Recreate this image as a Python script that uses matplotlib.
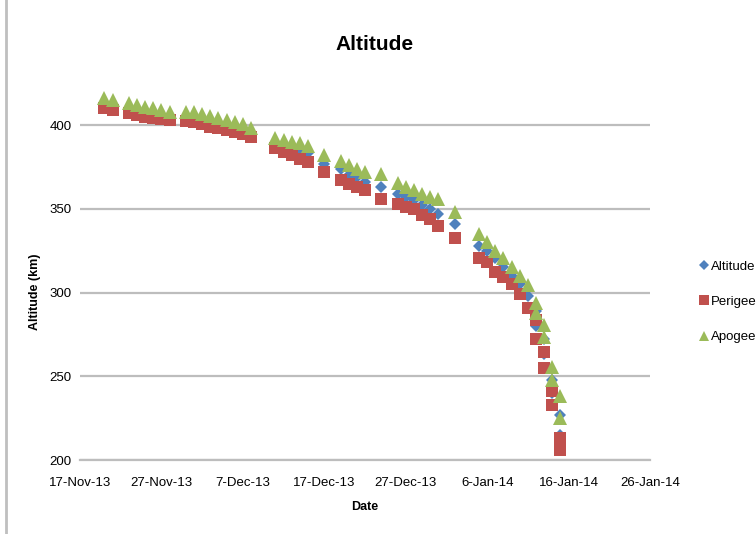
import datetime as dt
import matplotlib
matplotlib.use("Agg")
import matplotlib.pyplot as plt
import matplotlib.dates as mdates
from matplotlib.lines import Line2D
from matplotlib.ticker import FuncFormatter

plt.rcParams['font.family'] = ['Liberation Sans Narrow', 'Liberation Sans', 'DejaVu Sans']

# orbit readings (km); late January has two readings per day
dates = ['2013-11-20', '2013-11-21',
         '2013-11-23', '2013-11-24', '2013-11-25', '2013-11-26', '2013-11-27', '2013-11-28',
         '2013-11-30', '2013-12-01', '2013-12-02', '2013-12-03', '2013-12-04', '2013-12-05',
         '2013-12-06', '2013-12-07', '2013-12-08',
         '2013-12-11', '2013-12-12', '2013-12-13', '2013-12-14', '2013-12-15',
         '2013-12-17', '2013-12-19', '2013-12-20', '2013-12-21', '2013-12-22',
         '2013-12-24', '2013-12-26', '2013-12-27', '2013-12-28', '2013-12-29', '2013-12-30',
         '2013-12-31', '2014-01-02',
         '2014-01-05', '2014-01-06', '2014-01-07', '2014-01-08', '2014-01-09', '2014-01-10',
         '2014-01-11', '2014-01-12', '2014-01-12', '2014-01-13', '2014-01-13',
         '2014-01-14', '2014-01-14', '2014-01-15', '2014-01-15']

apogee = [416, 415,
          413, 412, 411, 410, 409, 408,
          408, 407.5, 406.5, 405.5, 404, 403, 402, 400.5, 398.5,
          392, 391, 390, 389, 387.5,
          382, 378.5, 376, 374, 372,
          371, 365.5, 363, 361, 359, 357, 356, 348,
          335, 330, 325, 320.5, 315, 310, 304.5,
          294, 288, 280.5, 273.5, 255.5, 248, 238, 225]

altitude = [413, 412,
            410, 408.5, 407.5, 406.5, 405.5, 405,
            405, 404.5, 403.5, 402, 401, 400, 399, 397.5, 395.5,
            389, 387.5, 386, 384.5, 383,
            377, 374, 370, 369, 366,
            363, 359, 357, 355, 352, 350, 347, 341,
            328, 325, 320.5, 315, 310, 305, 298,
            289, 280, 272, 263, 248, 240, 227, 215]

perigee = [410, 409,
           407, 406, 405, 404, 403.5, 403,
           402.5, 401.5, 400.5, 399, 398, 397, 396, 394.5, 393,
           386, 384, 382, 380, 378,
           372, 367, 365, 363, 361,
           356, 353, 351, 350, 346, 344, 340, 332.5,
           320.5, 318, 312, 309, 305, 299, 291,
           283.5, 272, 264.5, 255, 241, 233, 213, 206]

x = [dt.datetime.strptime(d, '%Y-%m-%d') for d in dates]

blue = '#4F81BD'
red = '#C0504D'
green = '#9BBB59'
grid_grey = '#BDBDBD'

fig = plt.figure(figsize=(7.56, 5.34), dpi=100)
ax = fig.add_axes([80 / 756, 1 - 460 / 534, 570 / 756, 368.5 / 534])

ax.plot(x, altitude, linestyle='none', marker='D', markersize=6,
        color=blue, markeredgewidth=0, label='Altitude', clip_on=False)
ax.plot(x, perigee, linestyle='none', marker='s', markersize=9,
        color=red, markeredgewidth=0, label='Perigee', clip_on=False)
ax.plot(x, apogee, linestyle='none', marker='^', markersize=9.5,
        color=green, markeredgewidth=0, label='Apogee', clip_on=False)

ax.set_ylim(200, 420)
ax.set_yticks([200, 250, 300, 350, 400])
ax.set_xlim(dt.datetime(2013, 11, 17), dt.datetime(2014, 1, 26))
ax.set_xticks([dt.datetime(2013, 11, 17) + dt.timedelta(days=10 * i) for i in range(8)])


def date_label(v, pos):
    d = mdates.num2date(v)
    return f"{d.day}-{d.strftime('%b-%y')}"


ax.xaxis.set_major_formatter(FuncFormatter(date_label))

ax.grid(axis='y', color=grid_grey, linewidth=1.6)
ax.set_axisbelow(True)
for side in ['top', 'right', 'left']:
    ax.spines[side].set_visible(False)
ax.spines['bottom'].set_color(grid_grey)
ax.spines['bottom'].set_linewidth(1.6)
ax.tick_params(axis='both', length=0, labelsize=9.5, colors='black')
ax.tick_params(axis='x', pad=12)
ax.tick_params(axis='y', pad=6)

fig.text(375 / 756, 1 - 45 / 534, 'Altitude', ha='center', va='center',
         fontsize=15, fontweight='bold')
fig.text(35 / 756, 1 - 292 / 534, 'Altitude (km)', ha='center', va='center',
         rotation=90, fontsize=9, fontweight='bold')
fig.text(365 / 756, 1 - 507 / 534, 'Date', ha='center', va='center',
         fontsize=9, fontweight='bold')

fig.legend(loc='upper left', bbox_to_anchor=(692 / 756, 1 - 255 / 534),
           frameon=False, fontsize=9.5, handletextpad=0.05, labelspacing=1.75,
           handlelength=1.0, borderaxespad=0, markerscale=0.8)

# chart-area border on the left edge
fig.add_artist(Line2D([6 / 756, 6 / 756], [0, 1], transform=fig.transFigure,
                      color='#BFBFBF', linewidth=2))

fig.savefig('out.png', dpi=100)
